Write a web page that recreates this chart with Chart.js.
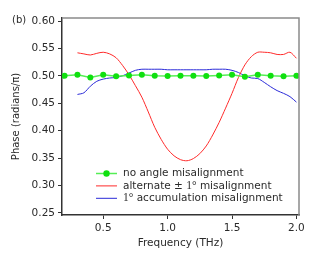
<!DOCTYPE html>
<html>
<head>
<meta charset="utf-8">
<script src="https://cdn.jsdelivr.net/npm/chart.js@4"></script>
<style>
  body { margin: 0; background: #fff; }
</style>
</head>
<body>
<canvas id="phaseChart" width="334" height="258"></canvas>
<script>
// data
const freqDots = [0.2, 0.3, 0.4, 0.5, 0.6, 0.7, 0.8, 0.9, 1.0, 1.1, 1.2, 1.3, 1.4, 1.5, 1.6, 1.7, 1.8, 1.9, 2.0];
const phaseNoMis = [0.500, 0.502, 0.497, 0.502, 0.499, 0.5005, 0.502, 0.500, 0.4995, 0.500, 0.500, 0.4995, 0.5005, 0.502, 0.4985, 0.502, 0.500, 0.499, 0.500];

const freqLines = [0.30, 0.35, 0.40, 0.45, 0.50, 0.55, 0.60, 0.65, 0.70, 0.75, 0.80, 0.85, 0.90, 0.95, 1.00, 1.05, 1.10, 1.15,
                   1.20, 1.25, 1.30, 1.35, 1.40, 1.45, 1.50, 1.55, 1.60, 1.65, 1.70, 1.75, 1.80, 1.85, 1.90, 1.95, 2.00];
const phaseAlt = [0.542, 0.540, 0.538, 0.541, 0.543, 0.540, 0.533, 0.519, 0.502, 0.482, 0.461, 0.434, 0.406, 0.384, 0.366, 0.354, 0.347, 0.345,
                  0.349, 0.358, 0.372, 0.392, 0.415, 0.441, 0.468, 0.497, 0.520, 0.535, 0.543, 0.543, 0.542, 0.539, 0.539, 0.543, 0.532];
const phaseAccum = [0.466, 0.469, 0.481, 0.490, 0.494, 0.496, 0.497, 0.500, 0.505, 0.510, 0.512, 0.512, 0.512, 0.512, 0.511, 0.511, 0.511, 0.511,
                    0.511, 0.511, 0.511, 0.512, 0.512, 0.512, 0.510, 0.506, 0.500, 0.496, 0.495, 0.488, 0.480, 0.473, 0.468, 0.462, 0.452];

const xTicks = [0.5, 1.0, 1.5, 2.0];
const yTicks = [0.25, 0.30, 0.35, 0.40, 0.45, 0.50, 0.55, 0.60];
const seriesNames = ['no angle misalignment', 'alternate \u00b1 1\u00b0 misalignment', '1\u00b0 accumulation misalignment'];

const FONT = 'DejaVu Sans';
const TXT = '#2a2a2a';

function toPoints(xs, ys) {
    return xs.map((x, i) => ({ x: x, y: ys[i] }));
}

// top/right frame, panel label and the legend inside the plot
const extras = {
    id: 'extras',
    afterDraw(chart) {
        const ctx = chart.ctx;
        const a = chart.chartArea;
        ctx.save();
        ctx.strokeStyle = '#8a8a8a';
        ctx.lineWidth = 1.5;
        ctx.beginPath();
        ctx.moveTo(a.left, a.top);
        ctx.lineTo(a.right, a.top);
        ctx.lineTo(a.right, a.bottom);
        ctx.stroke();

        ctx.fillStyle = TXT;
        ctx.font = '10px ' + FONT;
        ctx.textBaseline = 'middle';
        ctx.textAlign = 'left';
        ctx.fillText('(b)', 12, 20);

        const colors = chart.data.datasets.map(d => d.borderColor);
        seriesNames.forEach((name, i) => {
            const y = 173.5 + i * 12.4;
            ctx.strokeStyle = colors[i];
            ctx.lineWidth = i === 0 ? 1.5 : 1;
            ctx.beginPath();
            ctx.moveTo(96, y);
            ctx.lineTo(117, y);
            ctx.stroke();
            if (i === 0) {
                ctx.fillStyle = '#10e010';
                ctx.beginPath();
                ctx.arc(106.5, y, 3.2, 0, Math.PI * 2);
                ctx.fill();
            }
            // "1°" is set in a serif face in the original
            let x = 123;
            name.split(/(1\u00b0)/).forEach(part => {
                if (!part) return;
                ctx.font = part === '1\u00b0' ? '11.5px "Liberation Serif"' : '10.5px ' + FONT;
                ctx.fillStyle = TXT;
                ctx.fillText(part, x, y);
                x += ctx.measureText(part).width;
            });
        });
        ctx.restore();
    }
};

new Chart(document.getElementById('phaseChart'), {
    type: 'line',
    data: {
        datasets: [{
            label: seriesNames[0],
            data: toPoints(freqDots, phaseNoMis),
            borderColor: '#55ee55',
            backgroundColor: '#10e010',
            borderWidth: 1.5,
            pointRadius: 3,
            pointBorderWidth: 0,
            tension: 0
        }, {
            label: seriesNames[1],
            data: toPoints(freqLines, phaseAlt),
            borderColor: '#ff2a2a',
            borderWidth: 1,
            pointRadius: 0,
            tension: 0.3
        }, {
            label: seriesNames[2],
            data: toPoints(freqLines, phaseAccum),
            borderColor: '#2a2ad8',
            borderWidth: 1,
            pointRadius: 0,
            tension: 0.3
        }]
    },
    options: {
        responsive: false,
        animation: false,
        layout: { padding: { left: 0, top: 18, right: 35, bottom: 8 } },
        plugins: { legend: { display: false }, tooltip: { enabled: false } },
        scales: {
            x: {
                type: 'linear',
                min: 0.18,
                max: 2.02,
                afterBuildTicks: s => { s.ticks = xTicks.map(v => ({ value: v })); },
                afterFit: s => { s.height = 35; },
                grid: { drawOnChartArea: false, tickLength: 4, color: '#333', lineWidth: 1 },
                border: { color: '#333', width: 1.5 },
                ticks: {
                    color: TXT, font: { family: FONT, size: 10.5 }, padding: 3, maxRotation: 0,
                    callback: v => v.toFixed(1)
                },
                title: {
                    display: true, text: 'Frequency (THz)', color: TXT,
                    font: { family: FONT, size: 10.5 }, padding: { top: 1, bottom: 0 }
                }
            },
            y: {
                min: 0.246,
                max: 0.6055,
                afterBuildTicks: s => { s.ticks = yTicks.map(v => ({ value: v })); },
                afterFit: s => { s.width = 62; },
                grid: { drawOnChartArea: false, tickLength: 4, color: '#333', lineWidth: 1 },
                border: { color: '#333', width: 1.5 },
                ticks: {
                    color: TXT, font: { family: FONT, size: 10.5 }, padding: 3,
                    callback: v => v.toFixed(2)
                },
                title: {
                    display: true, text: 'Phase (radians/\u03c0)', color: TXT,
                    font: { family: FONT, size: 10 }, padding: { top: 10, bottom: 0 }
                }
            }
        }
    },
    plugins: [extras]
});
</script>
</body>
</html>
